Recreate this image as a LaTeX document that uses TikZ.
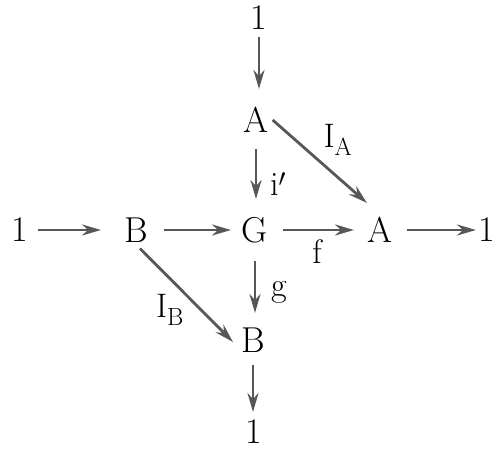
\documentclass[tikz,border=0pt]{standalone}
\usetikzlibrary{arrows.meta}
\begin{document}
\begin{tikzpicture}[x=1pt,y=-1pt,
  obj/.style={font=\fontsize{36}{40}\selectfont, inner sep=0pt, minimum size=0pt},
  lab/.style={font=\fontsize{34}{38}\selectfont, inner sep=0pt},
  arr/.style={draw=black!66, line width=2.8pt, -{Stealth[length=19pt,width=11pt]}}]
\useasboundingbox (0,0) rectangle (495,452);
\node[obj] (t1) at (259,18) {1};
\node[obj] (At) at (256,120) {A};
\node[obj] (G) at (255,230) {G};
\node[obj] (Bl) at (136,230) {B};
\node[obj] (l1) at (20,230) {1};
\node[obj] (Ar) at (380,230) {A};
\node[obj] (r1) at (487,230) {1};
\node[obj] (Bb) at (253,340) {B};
\node[obj] (b1) at (254,432) {1};
\draw[arr] (t1.south) ++(0,7) -- (259,89);
\draw[arr] (At.south) ++(0,16) -- (256,199);
\draw[arr] (At.east) ++(4,0) -- (367,203);
\draw[arr] (l1.east) ++(10,0) -- (101,230);
\draw[arr] (Bl.east) ++(16,0) -- (231,230);
\draw[arr] (G.east) ++(15,0) -- (354,230);
\draw[arr] (Ar.east) ++(14,0) -- (476,230);
\draw[arr] (G.south) ++(0,18) -- (255,313);
\draw[arr] (Bl.south) ++(4,6) -- (233,342);
\draw[arr] (Bb.south) ++(0,13) -- (253,412);
\node[lab] (iA) at (338,140) {I$_{\mathrm{A}}$};
\node[lab] (ip) at (278,184) {i$'$};
\node[lab] (f) at (317,252) {f};
\node[lab] (g) at (279,292) {g};
\node[lab] (iB) at (170,310) {I$_{\mathrm{B}}$};
\end{tikzpicture}
\end{document}
